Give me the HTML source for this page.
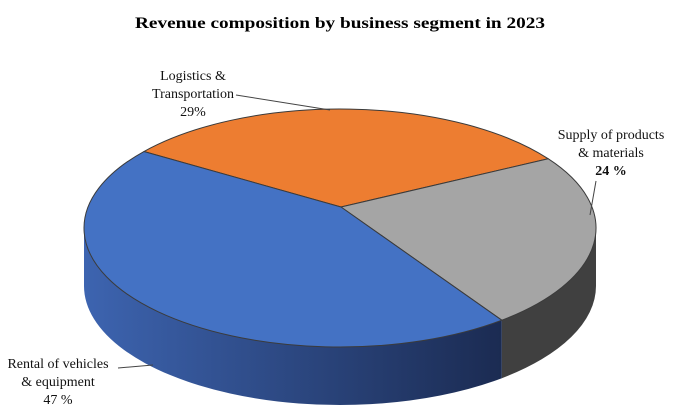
<!DOCTYPE html>
<html><head><meta charset="utf-8"><style>
html,body{margin:0;padding:0;background:#fff;}
svg{display:block;font-family:"Liberation Serif",serif;}
</style></head><body>
<svg id="chart" width="681" height="420" viewBox="0 0 681 420">
<defs>
<linearGradient id="blueSide" x1="0" y1="0" x2="1" y2="0">
<stop offset="0" stop-color="#3d64b0"/><stop offset="1" stop-color="#1b2b52"/>
</linearGradient>
</defs>
<text x="340" y="28" text-anchor="middle" font-weight="bold" font-size="16" textLength="410" lengthAdjust="spacingAndGlyphs">Revenue composition by business segment in 2023</text>
<g id="sides"></g>
<g id="tops"></g>
<g font-size="14" fill="#111">
<text text-anchor="middle"><tspan x="193" y="80">Logistics &amp;</tspan><tspan x="193" y="98">Transportation</tspan><tspan id="pct1" x="193" y="116"></tspan></text>
<line x1="236" y1="95" x2="330" y2="110" stroke="#444" stroke-width="1"/>
<text text-anchor="middle"><tspan x="611" y="139">Supply of products</tspan><tspan x="611" y="157">&amp; materials</tspan><tspan id="pct2" x="611" y="175" font-weight="bold"></tspan></text>
<line x1="596" y1="181" x2="590" y2="215" stroke="#444" stroke-width="1"/>
<text text-anchor="middle"><tspan x="58" y="368">Rental of vehicles</tspan><tspan x="58" y="386">&amp; equipment</tspan><tspan id="pct0" x="58" y="404"></tspan></text>
<line x1="118" y1="368" x2="153" y2="365" stroke="#444" stroke-width="1"/>
</g>
</svg>
<script>
const categories = ["Rental of vehicles & equipment","Logistics & Transportation","Supply of products & materials"];
const values = [47, 29, 24];
const pctLabels = ["47 %","29%","24 %"];
const colors = ["#4472c4","#ed7d31","#a5a5a5"];
const sideColors = ["url(#blueSide)","#c0601f","#404040"];
const cx=340, cy=228, rx=256, ry=119, depth=58, ax=341, ay=207;
const ns="http://www.w3.org/2000/svg";
const total = values.reduce((a,b)=>a+b,0);
function pt(a,dy){return [cx+rx*Math.cos(a), cy+ry*Math.sin(a)+(dy||0)];}
const D=Math.PI/180;
// order drawn: logistics starts at upper-left, then supply, then rental
const order=[1,2,0];
let start=220*D;
const slices=[];
order.forEach(i=>{const sweep=values[i]/total*2*Math.PI;slices.push({i,a0:start,a1:start+sweep});start+=sweep;});
const sides=document.getElementById('sides'), tops=document.getElementById('tops');
slices.forEach(s=>{
  // visible front portion: angles in [0,PI] mod 2PI
  for(let k=-1;k<=1;k++){
    const lo=Math.max(s.a0,k*2*Math.PI), hi=Math.min(s.a1,k*2*Math.PI+Math.PI);
    if(hi>lo){
      const p0=pt(lo),p1=pt(hi),q1=pt(hi,depth),q0=pt(lo,depth);
      const d=`M${p0}A${rx},${ry} 0 0 1 ${p1}L${q1}A${rx},${ry} 0 0 0 ${q0}Z`;
      const el=document.createElementNS(ns,'path');
      el.setAttribute('d',d);el.setAttribute('fill',sideColors[s.i]);
      
      
      sides.appendChild(el);
    }
  }
  const p0=pt(s.a0),p1=pt(s.a1);
  const large=(s.a1-s.a0)>Math.PI?1:0;
  const el=document.createElementNS(ns,'path');
  el.setAttribute('d',`M${ax},${ay}L${p0}A${rx},${ry} 0 ${large} 1 ${p1}Z`);
  el.setAttribute('fill',colors[s.i]);
  el.setAttribute('stroke','#3b3b3b');el.setAttribute('stroke-width','1');el.setAttribute('stroke-linejoin','round');
  
  
  tops.appendChild(el);
});
pctLabels.forEach((t,i)=>{document.getElementById('pct'+i).textContent=t;});
</script>
</body></html>
